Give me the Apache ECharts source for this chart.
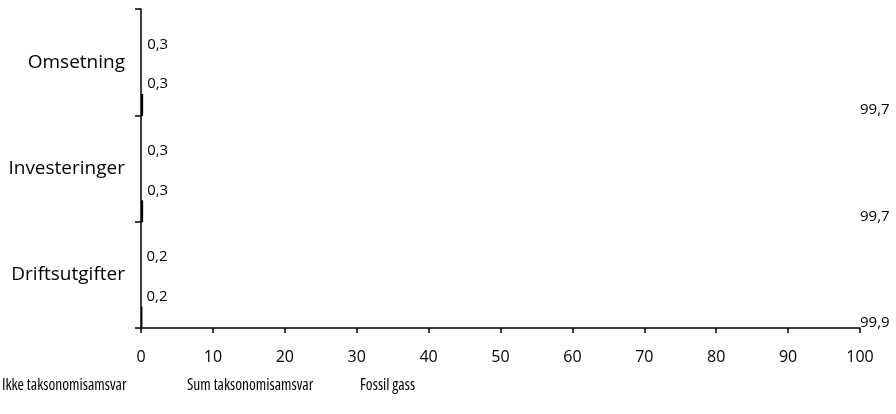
<!DOCTYPE html>
<html>
<head>
<meta charset="utf-8">
<script src="https://cdn.jsdelivr.net/npm/echarts@6/dist/echarts.min.js"></script>
<style>
html,body{margin:0;padding:0;background:#fff;}
#chart{width:896px;height:414px;}
</style>
</head>
<body>
<div id="chart"></div>
<script>
const categories = ['Omsetning', 'Investeringer', 'Driftsutgifter'];
const seriesNames = ['Ikke taksonomisamsvar', 'Sum taksonomisamsvar', 'Fossil gass'];
const ikkeValues = [99.7, 99.7, 99.9];
const sumValues = [0.3, 0.3, 0.2];
const fossilValues = [0.3, 0.3, 0.2];
const xTicks = [0, 10, 20, 30, 40, 50, 60, 70, 80, 90, 100];

const FONT = '"Open Sans", "Noto Sans", sans-serif';
const fmt = p => String(p.value).replace('.', ',');
const valueLabel = (extra) => Object.assign({
  show: true, position: 'right', distance: 4, color: '#000',
  fontFamily: FONT, fontSize: 15, formatter: fmt
}, extra);
const legendLefts = [-3, 182, 355];

const chart = echarts.init(document.getElementById('chart'));
chart.setOption({
  animation: false,
  backgroundColor: '#fff',
  grid: { left: 141, right: 36, top: 9, bottom: 86, containLabel: false },
  legend: seriesNames.map((n, i) => ({
    data: [n],
    left: legendLefts[i], bottom: 20, padding: 0,
    itemWidth: 0, itemHeight: 0, itemGap: 0,
    icon: 'rect',
    textStyle: { fontFamily: FONT, fontStyle: 'normal', fontWeight: 'condensed', fontSize: 15.5, color: '#000' },
    selectedMode: false
  })),
  xAxis: {
    type: 'value', min: 0, max: 100, interval: 10,
    axisLine: { show: true, lineStyle: { color: '#000', width: 1.5 } },
    axisTick: { show: true, length: 5, lineStyle: { color: '#000', width: 1.5 } },
    axisLabel: { color: '#000', fontFamily: FONT, fontSize: 16, margin: 21,
      formatter: v => xTicks.includes(v) ? String(v) : '' },
    splitLine: { show: false }
  },
  yAxis: {
    type: 'category', data: categories, inverse: true,
    axisLine: { show: true, lineStyle: { color: '#000', width: 1.5 } },
    axisTick: { show: true, length: 6, lineStyle: { color: '#000', width: 1.5 } },
    axisLabel: { color: '#000', fontFamily: FONT, fontSize: 19, margin: 16 }
  },
  series: [
    {
      name: seriesNames[1], type: 'bar', data: sumValues,
      barWidth: 22, barGap: '289%',
      itemStyle: { color: 'rgba(255,255,255,0)' },
      label: valueLabel({ offset: [0, 25] })
    },
    {
      name: seriesNames[2], type: 'bar', data: fossilValues, stack: 'total',
      barWidth: 22, barGap: '289%',
      itemStyle: { color: '#000' },
      label: valueLabel({ offset: [0, -21] })
    },
    {
      name: seriesNames[0], type: 'bar', data: ikkeValues, stack: 'total',
      barWidth: 22, barGap: '289%',
      itemStyle: { color: 'rgba(255,255,255,0)' },
      label: valueLabel({ distance: 0, offset: [0, 5], formatter: p => String(ikkeValues[p.dataIndex]).replace('.', ',') })
    }
  ]
});
</script>
</body>
</html>
